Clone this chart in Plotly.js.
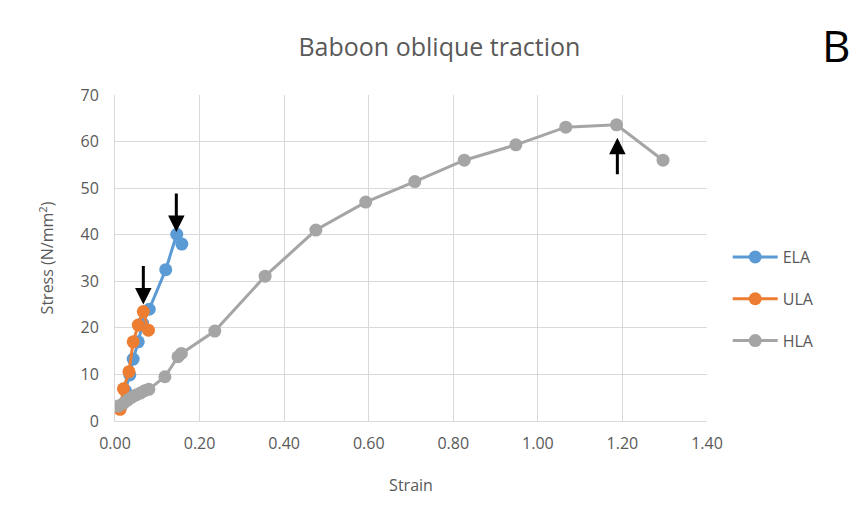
<!DOCTYPE html>
<html>
<head>
<meta charset="utf-8">
<script src="https://cdn.plot.ly/plotly-3.0.1.min.js"></script>
<style>
html,body{margin:0;padding:0;background:#fff;}
#chart{width:865px;height:525px;}
#edge{position:absolute;left:4px;top:8px;width:1px;height:517px;background:#d9d9d9;}
</style>
</head>
<body>
<div id="edge"></div>
<div id="chart"></div>
<script>
const elaStrain = [0.012, 0.025, 0.035, 0.043, 0.055, 0.065, 0.081, 0.120, 0.146, 0.158];
const elaStress = [2.7, 6.5, 9.9, 13.3, 17.0, 21.0, 24.0, 32.5, 40.1, 38.0];

const ulaStrain = [0.012, 0.020, 0.033, 0.043, 0.055, 0.067, 0.079];
const ulaStress = [2.5, 6.9, 10.6, 17.0, 20.6, 23.5, 19.5];

const hlaStrain = [0.008, 0.020, 0.030, 0.040, 0.050, 0.060, 0.070, 0.080, 0.118, 0.149, 0.157, 0.236, 0.355, 0.475, 0.593, 0.709, 0.826, 0.948, 1.066, 1.186, 1.296];
const hlaStress = [3.2, 3.8, 4.5, 5.1, 5.6, 6.0, 6.5, 6.8, 9.5, 13.8, 14.5, 19.3, 31.1, 41.0, 47.0, 51.4, 56.0, 59.3, 63.1, 63.6, 56.0];

const seriesNames = ['ELA', 'ULA', 'HLA'];
const seriesColors = ['#5B9BD5', '#ED7D31', '#A5A5A5'];

// arrow markers: [strain, stress, direction]
const arrowPts = [[0.145, 40.6, 'down'], [0.067, 25.0, 'down'], [1.188, 60.8, 'up']];

const xTicks = [0, 0.2, 0.4, 0.6, 0.8, 1.0, 1.2, 1.4];
const yTicks = [0, 10, 20, 30, 40, 50, 60, 70];

const font = 'Open Sans, Noto Sans, sans-serif';
const gray = '#595959';

const data = [[elaStrain, elaStress], [ulaStrain, ulaStress], [hlaStrain, hlaStress]].map((d, i) => ({
  x: d[0], y: d[1], type: 'scatter', mode: 'lines+markers', name: seriesNames[i],
  legendgroup: seriesNames[i],
  line: {color: seriesColors[i], width: 3},
  marker: {color: seriesColors[i], size: 13}
}));

const annotations = arrowPts.map(a => ({
  x: a[0], y: a[1], xref: 'x', yref: 'y',
  ax: 0, ay: a[2] === 'down' ? -40 : 38,
  showarrow: true, arrowhead: 2, arrowsize: 1.1, arrowwidth: 3, arrowcolor: '#000', text: ''
}));
annotations.push({
  text: 'B', xref: 'paper', yref: 'paper', x: 1.218, y: 1.153, xanchor: 'center', yanchor: 'middle',
  showarrow: false, font: {family: font, size: 44, color: '#000'}
});

const layout = {
  width: 865, height: 525,
  margin: {l: 115, r: 158, t: 95, b: 104},
  paper_bgcolor: '#fff', plot_bgcolor: '#fff',
  title: {text: 'Baboon oblique traction', x: 0.508, xanchor: 'center', y: 0.91, yanchor: 'middle',
    font: {family: font, size: 25, color: gray}},
  xaxis: {
    range: [0, 1.4], tickvals: xTicks, tickformat: '.2f', showgrid: true, gridcolor: '#d9d9d9', gridwidth: 1,
    zeroline: false, showline: true, linecolor: '#d9d9d9', linewidth: 1, mirror: false,
    ticks: '', ticklabelstandoff: 8, tickfont: {family: font, size: 16, color: gray},
    title: {text: 'Strain', font: {family: font, size: 16, color: gray}, standoff: 26}
  },
  yaxis: {
    range: [0, 70], tickvals: yTicks, showgrid: true, gridcolor: '#d9d9d9', gridwidth: 1,
    zeroline: false, showline: true, linecolor: '#d9d9d9', linewidth: 1,
    ticks: '', ticklabelstandoff: 12, tickfont: {family: font, size: 16, color: gray},
    title: {text: 'Stress (N/mm<sup>2</sup>)', font: {family: font, size: 16, color: gray}, standoff: 22}
  },
  showlegend: true,
  legend: {x: 1.035, y: 0.374, xanchor: 'left', yanchor: 'middle', tracegroupgap: 18,
    font: {family: font, size: 16, color: gray}, itemwidth: 45},
  annotations: annotations
};

Plotly.newPlot('chart', data, layout, {displayModeBar: false, staticPlot: true});
</script>
</body>
</html>
